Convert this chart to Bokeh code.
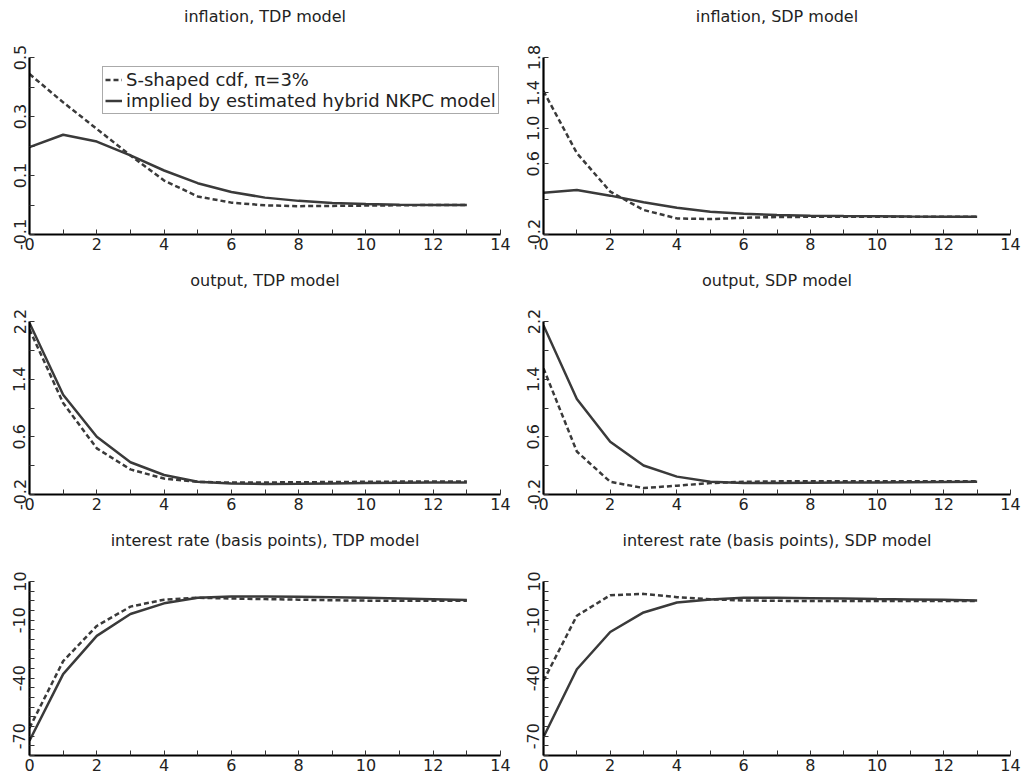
from bokeh.plotting import figure
from bokeh.layouts import column, row
from bokeh.models import Range1d, FixedTicker, PrintfTickFormatter, Legend, LegendItem, Title
from bokeh.embed import file_html
from bokeh.resources import INLINE

# ---------------- data ----------------
periods = list(range(14))

# inflation, TDP model
infl_tdp_scdf = [0.444, 0.348, 0.258, 0.168, 0.083, 0.029, 0.008, -0.001, -0.004, -0.003, -0.002, -0.001, 0.0, 0.0]
infl_tdp_nkpc = [0.196, 0.238, 0.215, 0.168, 0.117, 0.074, 0.044, 0.025, 0.014, 0.007, 0.003, 0.001, 0.0, 0.0]

# inflation, SDP model
infl_sdp_scdf = [1.42, 0.72, 0.285, 0.077, -0.018, -0.026, -0.011, -0.003, 0.0, 0.0, 0.0, 0.0, 0.0, 0.0]
infl_sdp_nkpc = [0.273, 0.304, 0.239, 0.164, 0.103, 0.058, 0.035, 0.020, 0.012, 0.008, 0.005, 0.002, 0.001, 0.0]

# output, TDP model
out_tdp_scdf = [2.09, 1.07, 0.44, 0.148, 0.021, -0.025, -0.035, -0.033, -0.030, -0.027, -0.024, -0.021, -0.020, -0.020]
out_tdp_nkpc = [2.18, 1.185, 0.60, 0.247, 0.071, -0.024, -0.048, -0.053, -0.050, -0.046, -0.042, -0.038, -0.034, -0.033]

# output, SDP model
out_sdp_scdf = [1.55, 0.396, -0.024, -0.110, -0.078, -0.042, -0.024, -0.018, -0.015, -0.015, -0.015, -0.015, -0.015, -0.015]
out_sdp_nkpc = [2.146, 1.126, 0.531, 0.202, 0.048, -0.024, -0.042, -0.042, -0.038, -0.035, -0.032, -0.029, -0.026, -0.024]

# interest rate (basis points), TDP model
int_tdp_scdf = [-65.7, -31.2, -13.0, -3.0, 0.6, 1.6, 1.2, 0.9, 0.6, 0.3, 0.1, 0.0, 0.0, 0.0]
int_tdp_nkpc = [-72.4, -37.9, -18.1, -6.8, -1.3, 1.6, 2.3, 2.3, 2.1, 1.9, 1.6, 1.2, 0.8, 0.4]

# interest rate (basis points), SDP model
int_sdp_scdf = [-41.3, -7.7, 2.9, 3.6, 1.9, 0.8, 0.2, 0.0, -0.1, -0.1, -0.1, -0.1, -0.1, -0.1]
int_sdp_nkpc = [-70.4, -35.4, -16.1, -6.0, -0.9, 0.7, 1.6, 1.6, 1.4, 1.2, 0.9, 0.7, 0.5, 0.2]

x_major = [0, 2, 4, 6, 8, 10, 12, 14]
x_minor = [1, 3, 5, 7, 9, 11, 13]

legend_labels = ["S-shaped cdf, \u03c0=3%", "implied by estimated hybrid NKPC model"]

FONT = "DejaVu Sans"
LINE_COLOR = "#3a3a3a"
TEXT_COLOR = "#222222"


def make_panel(title, yr, ymajor, yminor, yfmt, s_vals, h_vals, col, rowi, with_legend=False):
    if col == 0:
        w, bl, br = 515, 29, 15
    else:
        w, bl, br = 510, 28, 15
    if rowi == 0:
        h, bt, bb = 268, 57, 34
    elif rowi == 1:
        h, bt, bb = 260, 49, 34
    else:
        h, bt, bb = 247, 50, 20
    p = figure(width=w, height=h, output_backend="svg", toolbar_location=None,
               x_range=Range1d(0, 14), y_range=Range1d(*yr),
               min_border_left=bl, min_border_right=br,
               min_border_top=bt, min_border_bottom=bb,
               title_location=None)
    p.outline_line_color = None
    p.xgrid.visible = False
    p.ygrid.visible = False
    p.background_fill_color = "white"
    p.border_fill_color = "white"

    # spacer panel between frame and title, then the title itself
    p.add_layout(Title(text=" ", text_font_size="2px", standoff=28), "above")
    p.add_layout(Title(text=title, align="center", text_font=FONT, text_font_style="normal",
                       text_font_size="16px", text_color=TEXT_COLOR, standoff=0), "above")

    p.xaxis.ticker = FixedTicker(ticks=x_major, minor_ticks=x_minor)
    p.yaxis.ticker = FixedTicker(ticks=ymajor, minor_ticks=yminor)
    p.yaxis.formatter = PrintfTickFormatter(format=yfmt)
    p.xaxis.formatter = PrintfTickFormatter(format="%d")
    p.yaxis.major_label_orientation = "vertical"
    for ax in (p.xaxis, p.yaxis):
        ax.axis_line_width = 2.2
        ax.axis_line_color = "black"
        ax.major_tick_in = 5
        ax.major_tick_out = 0
        ax.minor_tick_in = 5
        ax.minor_tick_out = 0
        ax.major_tick_line_color = "#333333"
        ax.minor_tick_line_color = "#333333"
        ax.major_label_text_font = FONT
        ax.major_label_text_font_size = "16px"
        ax.major_label_text_color = TEXT_COLOR
    p.xaxis.major_label_standoff = 3
    p.yaxis.major_label_standoff = 4

    r1 = p.line(periods, s_vals, line_color=LINE_COLOR, line_width=2.5, line_dash="5 3")
    r2 = p.line(periods, h_vals, line_color=LINE_COLOR, line_width=2.5)

    if with_legend:
        leg = Legend(items=[LegendItem(label=legend_labels[0], renderers=[r1]),
                            LegendItem(label=legend_labels[1], renderers=[r2])],
                     location=(73, 120))
        leg.label_text_font = FONT
        leg.label_text_font_size = "18px"
        leg.label_text_color = TEXT_COLOR
        leg.label_height = 19
        leg.glyph_height = 19
        leg.glyph_width = 17
        leg.label_standoff = 4
        leg.padding = 2
        leg.spacing = 0
        leg.margin = 0
        leg.border_line_color = "#555555"
        leg.border_line_width = 1.5
        leg.background_fill_color = "white"
        leg.background_fill_alpha = 1.0
        p.add_layout(leg)
    return p


p1 = make_panel("inflation, TDP model", (-0.1, 0.5), [-0.1, 0.1, 0.3, 0.5], [0.0, 0.2, 0.4], "%.1f",
                infl_tdp_scdf, infl_tdp_nkpc, 0, 0, with_legend=True)
p2 = make_panel("inflation, SDP model", (-0.2, 1.8), [-0.2, 0.6, 1.0, 1.4, 1.8], [0.2], "%.1f",
                infl_sdp_scdf, infl_sdp_nkpc, 1, 0)
p3 = make_panel("output, TDP model", (-0.2, 2.2), [-0.2, 0.6, 1.4, 2.2], [0.2, 1.0, 1.8], "%.1f",
                out_tdp_scdf, out_tdp_nkpc, 0, 1)
p4 = make_panel("output, SDP model", (-0.2, 2.2), [-0.2, 0.6, 1.4, 2.2], [0.2, 1.0, 1.8], "%.1f",
                out_sdp_scdf, out_sdp_nkpc, 1, 1)
int_minor = [-80, -75, -65, -60, -55, -50, -45, -35, -30, -25, -20, -15, -5, 0, 5]
p5 = make_panel("interest rate (basis points), TDP model", (-80, 10), [-70, -40, -10, 10], int_minor, "%d",
                int_tdp_scdf, int_tdp_nkpc, 0, 2)
p6 = make_panel("interest rate (basis points), SDP model", (-80, 10), [-70, -40, -10, 10], int_minor, "%d",
                int_sdp_scdf, int_sdp_nkpc, 1, 2)

layout = column(row(p1, p2), row(p3, p4), row(p5, p6))

open("out.html", "w").write(file_html(layout, INLINE))
